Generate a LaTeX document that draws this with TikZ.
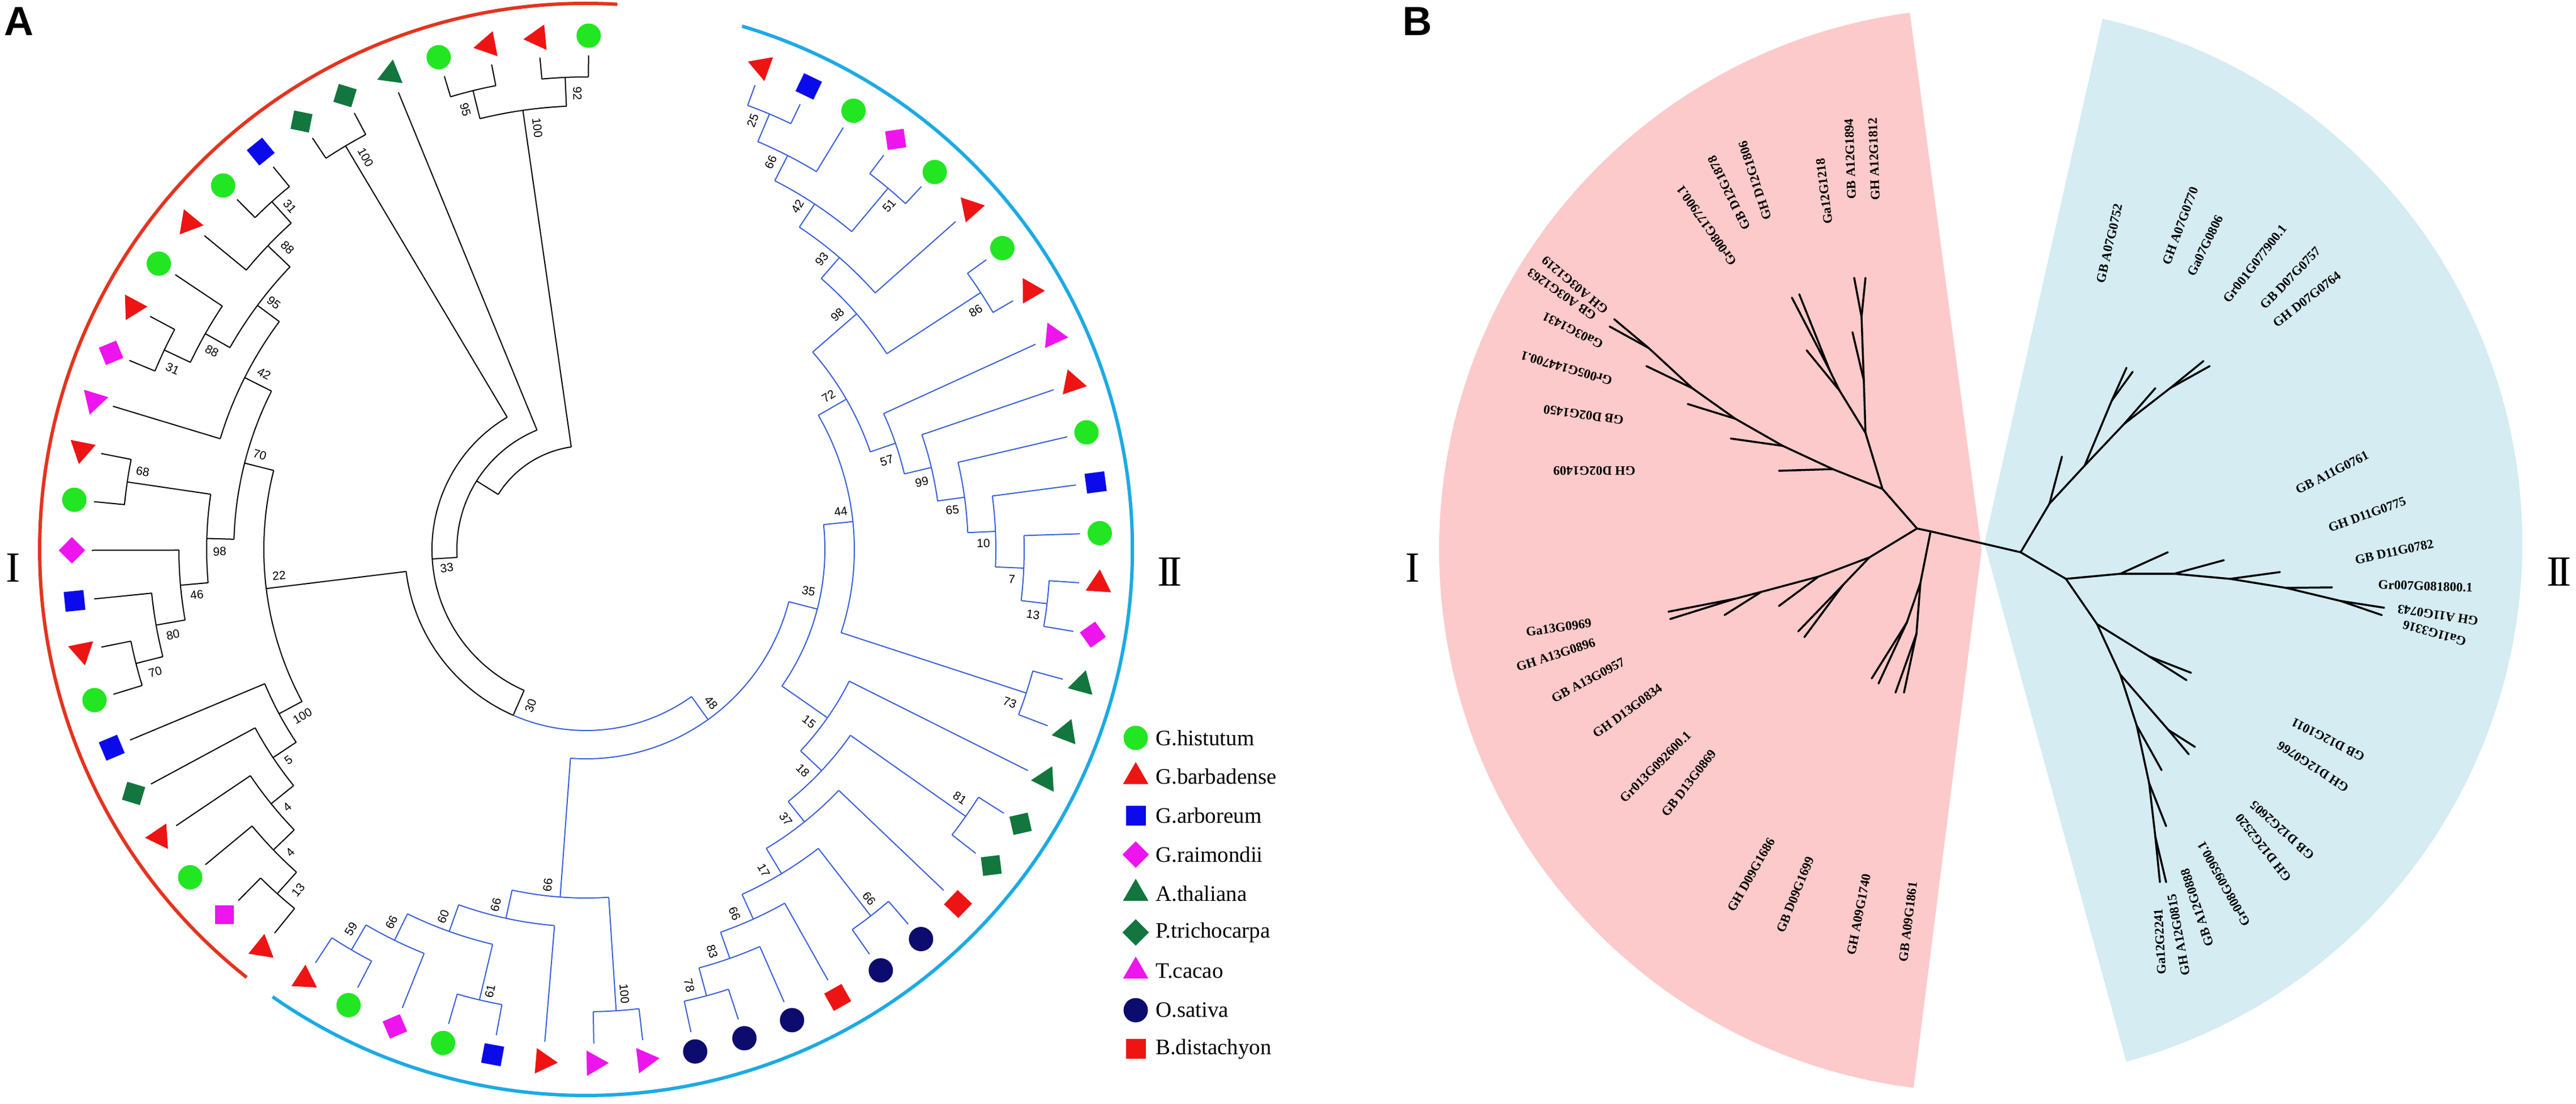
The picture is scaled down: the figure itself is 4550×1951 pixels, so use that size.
\documentclass[tikz,border=0pt]{standalone}
\usepackage{fontspec}
\setmainfont{Liberation Serif}
\newfontfamily\sansfam{Liberation Sans}
\usetikzlibrary{shapes.geometric}

\definecolor{hirgreen}{RGB}{34,230,34}
\definecolor{barred}{RGB}{238,20,20}
\definecolor{arbblue}{RGB}{10,10,235}
\definecolor{raimag}{RGB}{238,20,238}
\definecolor{athgreen}{RGB}{18,118,62}
\definecolor{osanavy}{RGB}{12,12,110}
\definecolor{lineblue}{RGB}{55,95,215}
\definecolor{arcred}{RGB}{228,52,30}
\definecolor{arcblue}{RGB}{28,170,228}
\definecolor{pinkfill}{RGB}{252,202,202}
\definecolor{bluefill}{RGB}{212,236,242}

\tikzset{
  trI/.style={draw=black, line width=2pt},
  trII/.style={draw=lineblue, line width=2pt},
  arcI/.style={draw=arcred, line width=6pt},
  arcII/.style={draw=arcblue, line width=6pt},
  bs/.style={font=\sansfam\fontsize{21}{21}\selectfont, inner sep=0pt},
  btree/.style={draw=black, line width=3.5pt, line cap=round, line join=round},
  gene/.style={font=\bfseries\fontsize{23}{23}\selectfont, inner sep=0pt},
  lgtext/.style={font=\fontsize{39}{39}\selectfont, anchor=west, inner sep=0pt},
  roman/.style={font=\fontsize{76}{76}\selectfont, inner sep=0pt},
  panel/.style={font=\sansfam\bfseries\fontsize{72}{72}\selectfont, inner sep=0pt},
  mk/.style={inner sep=0pt, outer sep=0pt, draw=none},
  mkhir/.style={mk, circle, fill=hirgreen, minimum size=43pt},
  mkosa/.style={mk, circle, fill=osanavy, minimum size=43pt},
  mkbar/.style={mk, regular polygon, regular polygon sides=3, fill=barred, minimum size=52pt},
  mkath/.style={mk, regular polygon, regular polygon sides=3, fill=athgreen, minimum size=52pt},
  mktca/.style={mk, regular polygon, regular polygon sides=3, fill=raimag, minimum size=52pt},
  mkarb/.style={mk, rectangle, fill=arbblue, minimum size=35pt},
  mkbdi/.style={mk, rectangle, fill=barred, minimum size=35pt},
  mkrai/.style={mk, rectangle, fill=raimag, minimum size=33pt, rotate=45},
  mkptr/.style={mk, rectangle, fill=athgreen, minimum size=33pt, rotate=45},
}

\begin{document}
\begin{tikzpicture}[x=1pt, y=1pt]
\useasboundingbox (0,0) rectangle (4550,1951);
\fill[white] (0,0) rectangle (4550,1951);

% panel B sectors
\fill[pinkfill] (3500,979) -- ++(97.6:958) arc[start angle=97.6, end angle=262.8, radius=958] -- cycle;
\fill[bluefill] (3505,991) -- ++(77.3:950) arc[start angle=77.3, end angle=-74.7, radius=950] -- cycle;

% panel A: circular tree
\begin{scope}[shift={(1035,980)}]
  \draw[arcI] (86.7:965) arc[start angle=86.7, end angle=231.6, radius=965];
  \draw[arcII] (73.4:965) arc[start angle=73.4, end angle=-125, radius=965];

  % deep nodes
  \draw[trI] (98.175:183) arc[start angle=98.175, end angle=147.92, radius=183];
  \draw[trI] (112.30:228) arc[start angle=112.30, end angle=183.545, radius=228];
  \draw[trI] (147.92:228) -- (147.92:183);
  \draw[trI] (186.986:320) arc[start angle=186.986, end angle=246.315, radius=320];
  \draw[trI] (246.315:320) -- (246.315:272);
  \draw[trII] (246.315:320) arc[start angle=246.315, end angle=305.644, radius=320];
  \node[bs, rotate=70.5] (bsRoot) at (250.5:293) {30};

  % clade I nodes: child angles / radius / parent radius / bootstrap / label shift
  \foreach \a/\b/\r/\p/\v/\o/\d [count=\i] in {
    89.70/95.35/835/784/92/-1.45/29,
    101.00/106.65/835/784/95/1.5/29,
    92.525/103.825/784/183/100/-1.6/34,
    117.95/123.60/830/272/100/-1.45/35,
    129.25/134.90/828/777/31/-1.3/27,
    132.075/140.55/777/723/88/-1.65/27,
    151.85/157.50/824/773/31/1.7/27,
    146.20/154.675/773/723/88/1.6/25,
    136.3125/150.4375/723/675/95/-1.7/20,
    143.375/163.15/675/622/42/-1.9/27,
    168.80/174.45/819/670/68/-1.6/24,
    191.40/197.05/820/771/70/1.65/29,
    185.75/194.225/771/719/80/1.7/26,
    180.10/189.9875/719/670/46/1.6/27,
    171.625/185.044/670/622/98/2.0/23,
    153.2625/178.334/622/569/70/-2.0/22,
    225.30/230.95/817/766/13/1.7/29,
    219.65/228.125/766/715/4/1.8/18,
    214.00/223.8875/715/664/4/1.85/18,
    208.35/218.944/664/615/5/1.65/20,
    202.70/213.647/615/569/100/2.3/34,
    165.798/208.1735/569/320/22/-2.1/25,
    120.775/246.315/272/228/33/4/24}{
    \pgfmathsetmacro\m{(\a+\b)/2}
    \draw[trI] (\a:\r) arc[start angle=\a, end angle=\b, radius=\r];
    \draw[trI] (\m:\r) -- (\m:\p);
    \pgfmathsetmacro\la{\m+\o}
    \pgfmathsetmacro\lr{\r-\d}
    \pgfmathsetmacro\rot{cos(\la)<0 ? \la+180 : \la}
    \node[bs, rotate=\rot] (bsI\i) at (\la:\lr) {\v};
  }

  % clade II nodes
  \foreach \a/\b/\r/\p/\v/\o/\d [count=\i] in {
    70.000/64.318/835/782/25/1.6/22,
    67.159/58.636/782/732/66/1.6/24,
    52.954/47.272/832/732/51/-1.5/22,
    62.898/50.113/732/683/42/1.85/20,
    56.506/41.590/683/634/93/1.9/22,
    35.908/30.226/832/634/86/-1.6/25,
    49.048/33.067/634/531/98/2.0/26,
    -3.866/-9.548/820/774/13/-1.6/22,
    1.816/-6.707/774/724/7/-1.55/20,
    7.498/-2.446/724/675/10/-1.65/22,
    13.180/2.526/675/627/65/-1.7/24,
    18.862/7.853/627/578/99/-2.0/22,
    24.544/13.358/578/531/57/-2.5/24,
    41.058/18.951/531/474/72/2.3/24,
    -15.230/-20.912/818/474/73/-1.8/22,
    30.005/-18.071/474/422/44/2.5/19,
    -32.276/-37.958/820/571/81/1.5/27,
    -49.322/-55.004/820/669/66/1.2/26,
    -72.050/-77.732/817/766/78/-1.8/25,
    -66.368/-74.891/766/717/83/-1.95/21,
    -60.686/-70.630/717/669/66/-2.15/22,
    -52.163/-65.658/669/617/17/-2.1/21,
    -43.640/-58.911/617/571/37/-2.2/24,
    -35.117/-51.276/571/520/18/-2.35/24,
    -26.594/-43.197/520/422/15/-2.8/22,
    5.967/-34.896/422/370/35/3.9/22,
    -83.414/-89.096/817/616/100/1.2/29,
    -117.506/-123.188/820/769/59/-1.4/31,
    -111.824/-120.347/769/717/66/-1.45/26,
    -100.460/-106.142/818/717/61/1.05/19,
    -103.301/-116.086/717/667/60/-1.55/21,
    -94.778/-109.694/667/616/66/-2.0/19,
    -86.255/-102.236/616/370/66/-2.25/19,
    -14.465/-94.246/370/320/48/3.5/20}{
    \pgfmathsetmacro\m{(\a+\b)/2}
    \draw[trII] (\a:\r) arc[start angle=\a, end angle=\b, radius=\r];
    \draw[trII] (\m:\r) -- (\m:\p);
    \pgfmathsetmacro\la{\m+\o}
    \pgfmathsetmacro\lr{\r-\d}
    \pgfmathsetmacro\rot{cos(\la)<0 ? \la+180 : \la}
    \node[bs, rotate=\rot] (bsII\i) at (\la:\lr) {\v};
  }

  % leaf branches
  \foreach \t/\p in {89.70/835, 95.35/835, 101.00/835, 106.65/835, 112.30/228,
    117.95/830, 123.60/830, 129.25/828, 134.90/828, 140.55/777, 146.20/773,
    151.85/824, 157.50/824, 163.15/675, 168.80/819, 174.45/819, 180.10/719,
    185.75/771, 191.40/820, 197.05/820, 202.70/615, 208.35/664, 214.00/715,
    219.65/766, 225.30/817, 230.95/817}
    \draw[trI] (\t:873) -- (\t:\p);
  \foreach \t/\p in {70.000/835, 64.318/835, 58.636/782, 52.954/832, 47.272/832,
    41.590/683, 35.908/832, 30.226/832, 24.544/578, 18.862/627, 13.180/675,
    7.498/724, 1.816/774, -3.866/820, -9.548/820, -15.230/818, -20.912/818,
    -26.594/520, -32.276/820, -37.958/820, -43.640/617, -49.322/820, -55.004/820,
    -60.686/717, -66.368/766, -72.050/817, -77.732/817, -83.414/817, -89.096/817,
    -94.778/667, -100.460/818, -106.142/818, -111.824/769, -117.506/820, -123.188/820}
    \draw[trII] (\t:873) -- (\t:\p);

  % leaf markers
  \foreach \t/\s [count=\i] in {89.70/mkhir, 95.35/mkbar, 101.00/mkbar, 106.65/mkhir,
    112.30/mkath, 117.95/mkptr, 123.60/mkptr, 129.25/mkarb, 134.90/mkhir, 140.55/mkbar,
    146.20/mkhir, 151.85/mkbar, 157.50/mkrai, 163.15/mktca, 168.80/mkbar, 174.45/mkhir,
    180.10/mkrai, 185.75/mkarb, 191.40/mkbar, 197.05/mkhir, 202.70/mkarb, 208.35/mkptr,
    214.00/mkbar, 219.65/mkhir, 225.30/mkrai, 230.95/mkbar}
    \node[\s, rotate=\t] (lfI\i) at (\t:908) {};
  \foreach \t/\s [count=\i] in {70.000/mkbar, 64.318/mkarb, 58.636/mkhir, 52.954/mkrai,
    47.272/mkhir, 41.590/mkbar, 35.908/mkhir, 30.226/mkbar, 24.544/mktca, 18.862/mkbar,
    13.180/mkhir, 7.498/mkarb, 1.816/mkhir, -3.866/mkbar, -9.548/mkrai, -15.230/mkath,
    -20.912/mkath, -26.594/mkath, -32.276/mkptr, -37.958/mkptr, -43.640/mkbdi,
    -49.322/mkosa, -55.004/mkosa, -60.686/mkbdi, -66.368/mkosa, -72.050/mkosa,
    -77.732/mkosa, -83.414/mktca, -89.096/mktca, -94.778/mkbar, -100.460/mkarb,
    -106.142/mkhir, -111.824/mkrai, -117.506/mkhir, -123.188/mkbar}
    \node[\s, rotate=\t] (lfII\i) at (\t:908) {};
\end{scope}

% everything below in image coordinates (y downwards)
\begin{scope}[shift={(0,1951)}, y=-1pt]
  \node[panel] (labA) at (33,38) {A};
  \node[panel] (labB) at (2503,38) {B};
  \node[roman] (romAI) at (23,1004) {I};
  \node[roman] (romAII) at (2066,1011) {I\kern-0.1em I};
  \node[roman] (romBI) at (2495,1004) {I};
  \node[roman] (romBII) at (4520,1011) {I\kern-0.1em I};

  % legend
  \foreach \s/\txt [count=\i] in {mkhir/G.histutum, mkbar/G.barbadense, mkarb/G.arboreum,
    mkrai/G.raimondii, mkath/A.thaliana, mkptr/P.trichocarpa, mktca/T.cacao,
    mkosa/O.sativa, mkbdi/B.distachyon}{
    \node[\s] (lgm\i) at (2006,{1304+68.75*(\i-1)}) {};
    \node[lgtext] (lgt\i) at (2041,{1304+68.75*(\i-1)}) {\txt};
  }

  % panel B: unrooted tree
  \coordinate (P0) at (3386,934);
  \coordinate (Pd) at (3410,939);
  \coordinate (B0) at (3569,976);
  \coordinate (P1) at (3325,864);
  \coordinate (P2) at (3295,765);
  \coordinate (U1) at (3249,690);
  \coordinate (U2) at (3232,655);
  \coordinate (U3) at (3292,672);
  \coordinate (U4) at (3288,560);
  \coordinate (tA1) at (3165,526);
  \coordinate (tA2) at (3178,520);
  \coordinate (tA3) at (3191,619);
  \coordinate (tA4) at (3272,587);
  \coordinate (tA5) at (3275,491);
  \coordinate (tA6) at (3295,491);
  \coordinate (L1) at (3237,829);
  \coordinate (L2) at (3149,788);
  \coordinate (L3) at (3065,740);
  \coordinate (L4) at (2989,686);
  \coordinate (L5) at (2912,615);
  \coordinate (tB1) at (3142,832);
  \coordinate (tB2) at (3057,775);
  \coordinate (tB3) at (2981,714);
  \coordinate (tB4) at (2908,647);
  \coordinate (tB5) at (2851,564);
  \coordinate (tB6) at (2843,577);
  \coordinate (P3) at (3302,985);
  \coordinate (M4) at (3256,1033);
  \coordinate (M1) at (3212,1019);
  \coordinate (M2) at (3111,1046);
  \coordinate (M3) at (3065,1058);
  \coordinate (tC1) at (3176,1116);
  \coordinate (tC2) at (3187,1126);
  \coordinate (tC3) at (3142,1071);
  \coordinate (tC4) at (3046,1087);
  \coordinate (tC5) at (2947,1081);
  \coordinate (tC6) at (2950,1094);
  \coordinate (Q1) at (3392,1030);
  \coordinate (Qa) at (3368,1100);
  \coordinate (Qb) at (3385,1120);
  \coordinate (tD1) at (3306,1199);
  \coordinate (tD2) at (3318,1208);
  \coordinate (tD3) at (3348,1224);
  \coordinate (tD4) at (3363,1224);
  \coordinate (V1) at (3620,890);
  \coordinate (V2) at (3682,823);
  \coordinate (W1) at (3730,708);
  \coordinate (V3) at (3752,749);
  \coordinate (V4) at (3833,686);
  \coordinate (tE1) at (3642,807);
  \coordinate (tE2) at (3756,650);
  \coordinate (tE3) at (3767,657);
  \coordinate (tE4) at (3807,686);
  \coordinate (tE5) at (3892,638);
  \coordinate (tE6) at (3903,647);
  \coordinate (B1) at (3649,1023);
  \coordinate (R1) at (3745,1014);
  \coordinate (R2) at (3840,1014);
  \coordinate (R3) at (3939,1023);
  \coordinate (R4) at (4038,1039);
  \coordinate (R5) at (4134,1062);
  \coordinate (tF1) at (3829,976);
  \coordinate (tF2) at (3928,990);
  \coordinate (tF3) at (4027,1011);
  \coordinate (tF4) at (4119,1038);
  \coordinate (tF5) at (4211,1074);
  \coordinate (tF6) at (4207,1087);
  \coordinate (D1) at (3704,1103);
  \coordinate (D1a) at (3796,1160);
  \coordinate (D2) at (3745,1192);
  \coordinate (D2a) at (3830,1290);
  \coordinate (D3) at (3774,1282);
  \coordinate (D4) at (3796,1384);
  \coordinate (D5) at (3807,1479);
  \coordinate (tG1) at (3870,1189);
  \coordinate (tG2) at (3862,1202);
  \coordinate (tG3) at (3877,1320);
  \coordinate (tG4) at (3866,1333);
  \coordinate (tG5) at (3818,1361);
  \coordinate (tG6) at (3826,1460);
  \coordinate (tG7) at (3815,1559);
  \coordinate (tG8) at (3826,1559);

  \foreach \u/\v in {P0/P1, P1/P2, P2/U1, U1/U2, U2/tA1, U2/tA2, U1/tA3, P2/U3,
    U3/tA4, U3/U4, U4/tA5, U4/tA6,
    P1/L1, L1/tB1, L1/L2, L2/tB2, L2/L3, L3/tB3, L3/L4, L4/tB4, L4/L5, L5/tB5, L5/tB6,
    P0/P3, P3/M4, M4/tC1, M4/tC2, P3/M1, M1/tC3, M1/M2, M2/tC4, M2/M3, M3/tC5, M3/tC6,
    P0/Pd, Pd/B0, Pd/Q1, Q1/Qa, Q1/Qb, Qa/tD1, Qa/tD2, Qb/tD3, Qb/tD4,
    B0/V1, V1/tE1, V1/V2, V2/W1, W1/tE2, W1/tE3, V2/V3, V3/tE4, V3/V4, V4/tE5, V4/tE6,
    B0/B1, B1/R1, R1/tF1, R1/R2, R2/tF2, R2/R3, R3/tF3, R3/R4, R4/tF4, R4/R5,
    R5/tF5, R5/tF6,
    B1/D1, D1/D1a, D1a/tG1, D1a/tG2, D1/D2, D2/D2a, D2a/tG3, D2a/tG4, D2/D3,
    D3/tG5, D3/D4, D4/tG6, D4/D5, D5/tG7, D5/tG8}
    \draw[btree] (\u) -- (\v);

  % gene labels
  \foreach \x/\y/\ang/\txt [count=\i] in {
    3268/281/92/GB A12G1894,
    3310/281/92/GH A12G1812,
    3222/338/97/Ga12G1218,
    3100/319/108/GH D12G1806,
    3054/341/116/GB D12G1878,
    3015/399/125/Gr008G177900.1,
    2782/504/140/GH A03G1219,
    2759/520/145/GB A03G1263,
    2778/584/153/Ga03G1431,
    2767/651/164/Gr005G144700.1,
    2797/733/172/GB D02G1450,
    2816/832/180/GH D02G1409,
    2753/1109/8/Ga13G0969,
    2748/1157/18/GH A13G0896,
    2805/1202/28/GB A13G0957,
    2875/1256/36/GH D13G0834,
    2924/1355/45/Gr013G092600.1,
    2983/1384/52/GB D13G0869,
    3093/1546/60/GH D09G1686,
    3171/1581/68/GB D09G1699,
    3283/1616/79/GH A09G1740,
    3370/1629/83/GB A09G1861,
    3726/430/77/GB A07G0752,
    3851/399/70/GH A07G0770,
    3895/434/64/Ga07G0806,
    3983/466/52/Gr001G077900.1,
    4046/491/46/GB D07G0757,
    4075/529/38/GH D07G0764,
    4119/835/27/GB A11G0761,
    4181/909/20/GH D11G0775,
    4229/975/12/GB D11G0782,
    4284/1036/-2/Gr007G081800.1,
    4306/1087/171/GH A11G0743,
    4300/1119/164/Ga11G3316,
    4112/1307/153/GB D12G1011,
    4086/1355/147/GH D12G0766,
    4031/1467/138/GB D12G2605,
    3998/1498/128/GH D12G2520,
    3928/1562/119/Gr008G095900.1,
    3881/1604/108/GB A12G0888,
    3848/1652/100/GH A12G0815,
    3815/1664/93/Ga12G2241}
    \node[gene, rotate=\ang] (gn\i) at (\x,\y) {\txt};
\end{scope}
\end{tikzpicture}
\end{document}
